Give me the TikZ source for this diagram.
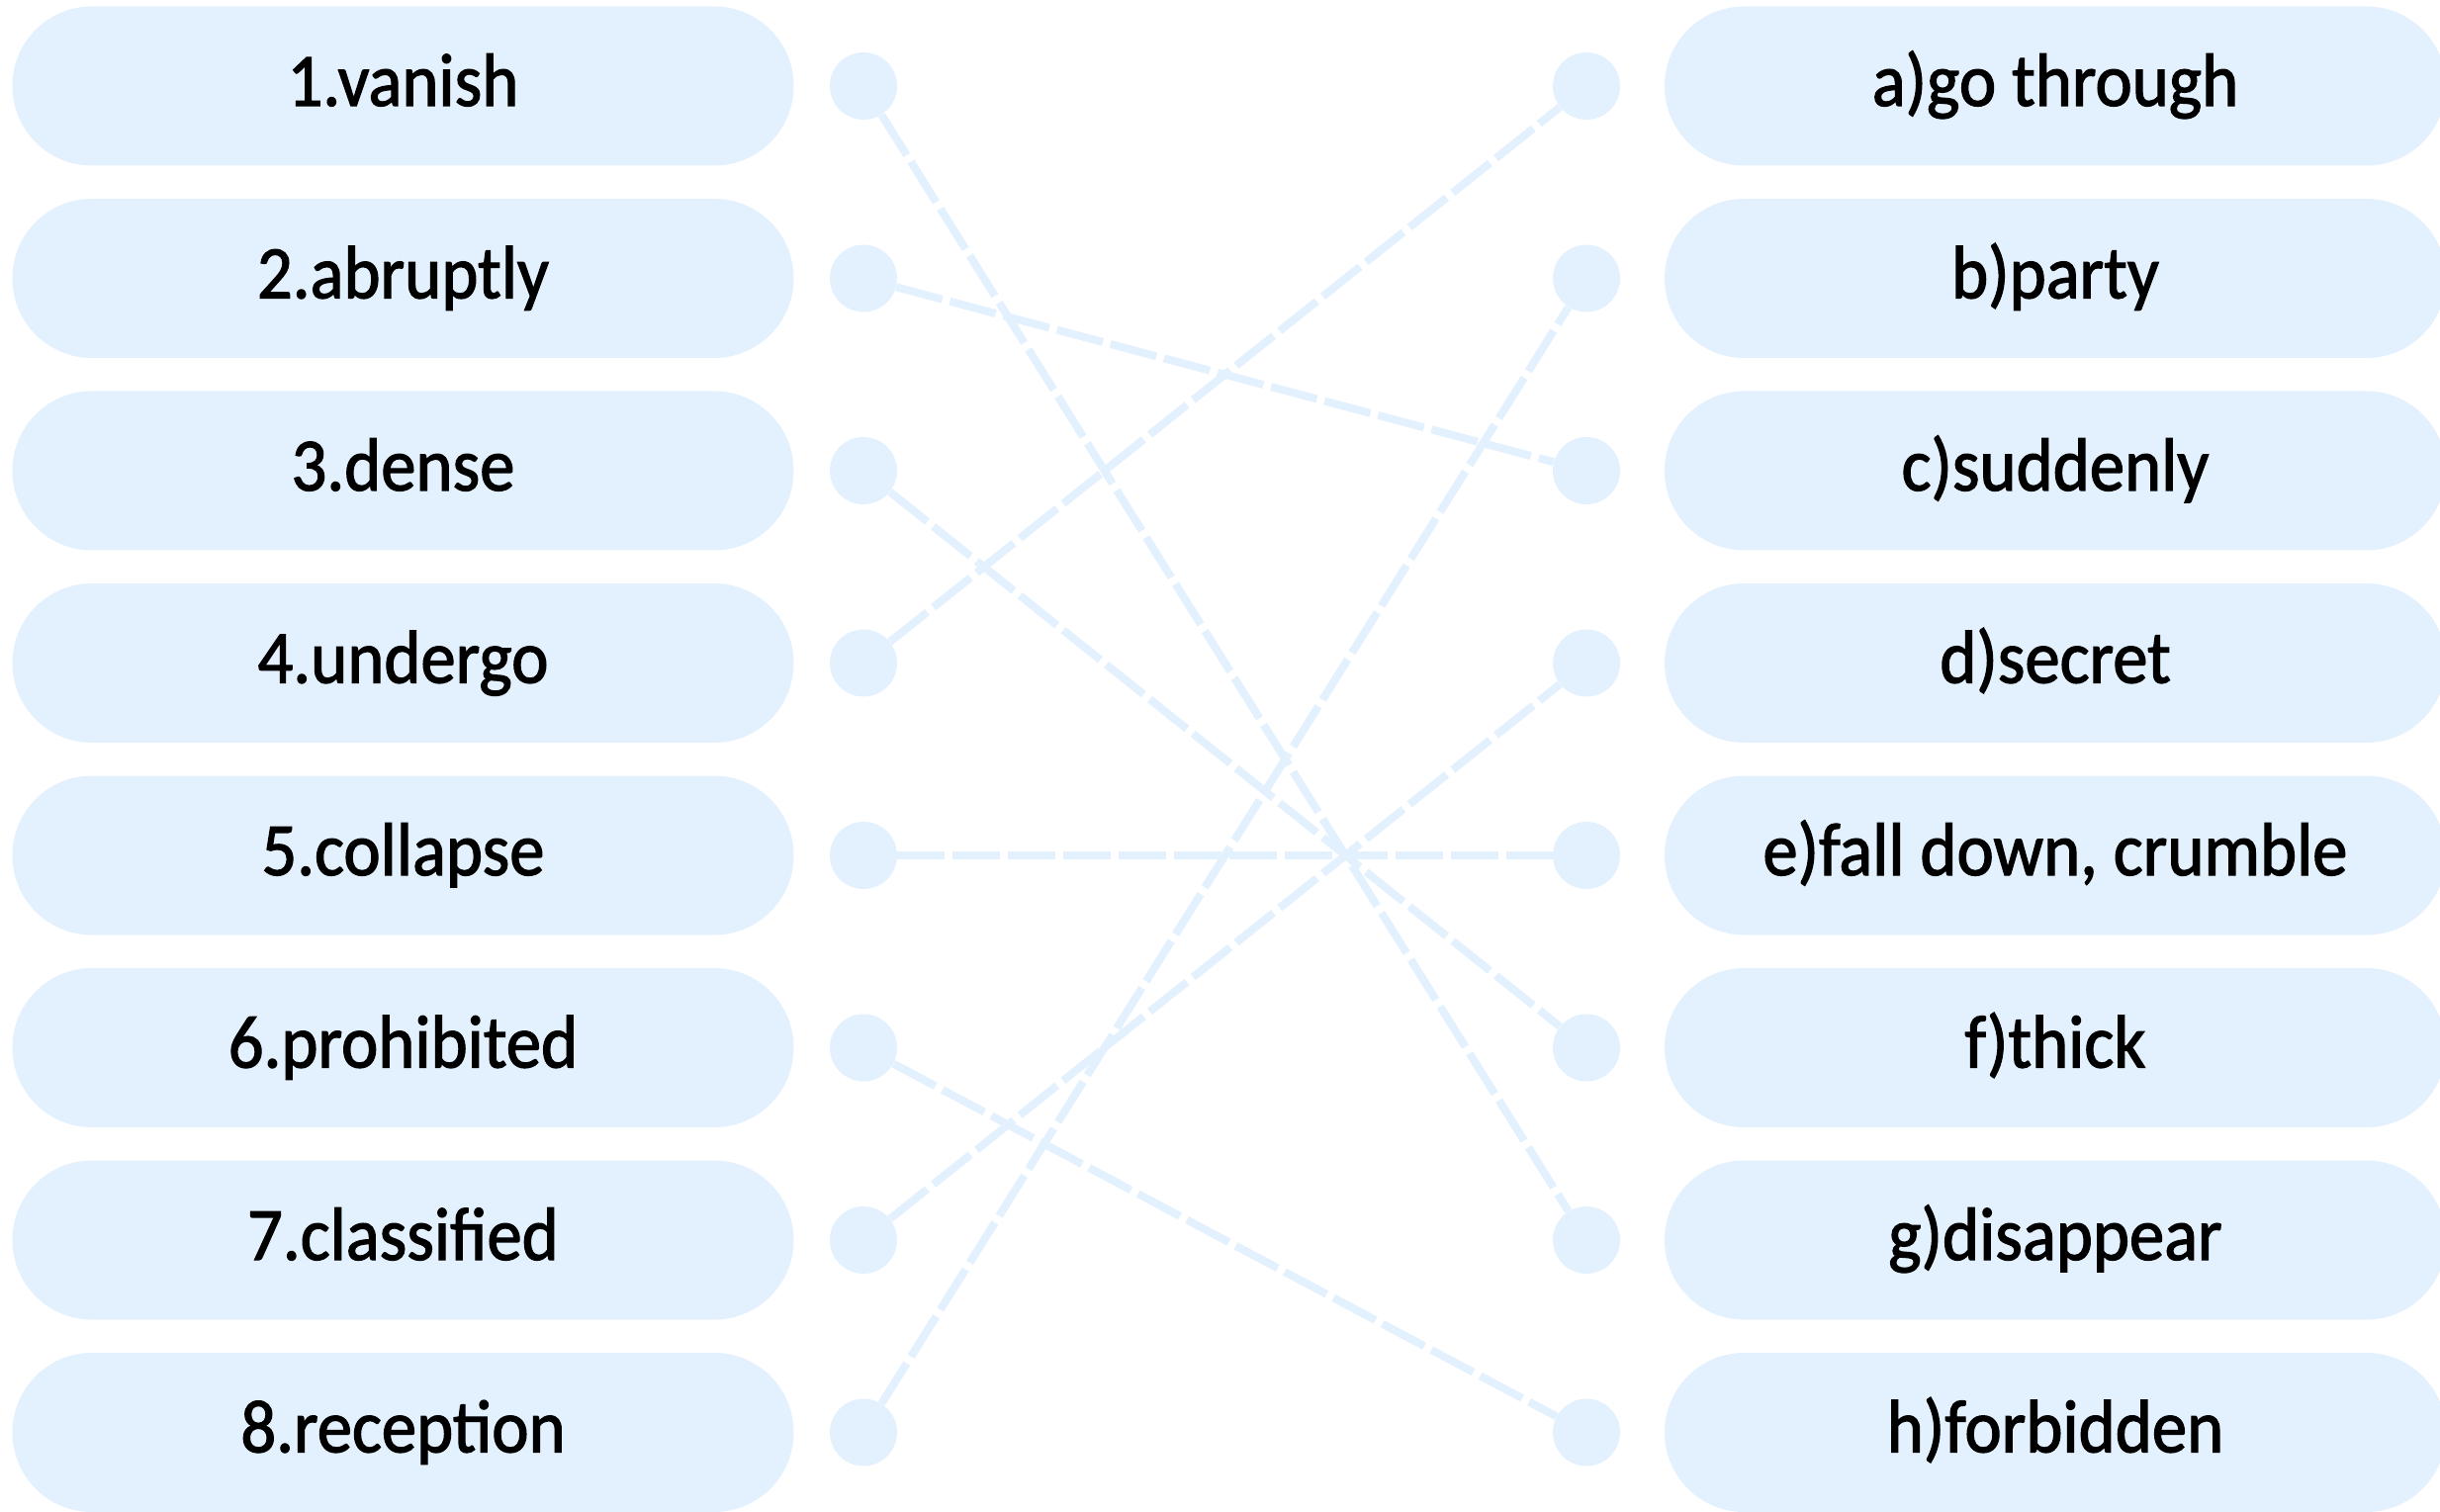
\documentclass[tikz,border=0pt]{standalone}
\usepackage{fontspec}
\setmainfont{Carlito}[FakeStretch=0.93,FakeBold=1.6]
\definecolor{cfill}{HTML}{E3F0FD}
\begin{document}
\begin{tikzpicture}[x=0.5pt,y=-0.5pt,
  box/.style={fill=cfill, draw=none, rounded corners=40.2pt, minimum width=395pt, minimum height=80.5pt, inner sep=0pt, font=\fontsize{38}{45}\selectfont, text height=28.5pt, text depth=8.5pt},
  dot/.style={circle, fill=cfill, draw=none, minimum size=34pt, inner sep=0pt},
  link/.style={draw=cfill, line width=4pt, dash pattern=on 24pt off 4pt}]
\useasboundingbox (0,0) rectangle (2467,1529);
% left boxes
\node[box] (L1) at (407.5,87) {1.vanish};
\node[box] (L2) at (407.5,281.5) {2.abruptly};
\node[box] (L3) at (407.5,476) {3.dense};
\node[box] (L4) at (407.5,670.5) {4.undergo};
\node[box] (L5) at (407.5,865) {5.collapse};
\node[box] (L6) at (407.5,1059.5) {6.prohibited};
\node[box] (L7) at (407.5,1254) {7.classified};
\node[box] (L8) at (407.5,1448.5) {8.reception};
% right boxes
\node[box] (Ra) at (2078,87) {a)go through};
\node[box] (Rb) at (2078,281.5) {b)party};
\node[box] (Rc) at (2078,476) {c)suddenly};
\node[box] (Rd) at (2078,670.5) {d)secret};
\node[box] (Re) at (2078,865) {e)fall down, crumble};
\node[box] (Rf) at (2078,1059.5) {f)thick};
\node[box] (Rg) at (2078,1254) {g)disappear};
\node[box] (Rh) at (2078,1448.5) {h)forbidden};
% dots
\foreach \i/\y in {1/87,2/281.5,3/476,4/670.5,5/865,6/1059.5,7/1254,8/1448.5}{
  \node[dot] (l\i) at (873,\y) {};
}
\foreach \j/\y in {a/87,b/281.5,c/476,d/670.5,e/865,f/1059.5,g/1254,h/1448.5}{
  \node[dot] (r\j) at (1604,\y) {};
}
% links
\draw[link] (l1) -- (rg);
\draw[link] (l2) -- (rc);
\draw[link] (l3) -- (rf);
\draw[link] (l4) -- (ra);
\draw[link] (l5) -- (re);
\draw[link] (l6) -- (rh);
\draw[link] (l7) -- (rd);
\draw[link] (l8) -- (rb);
\end{tikzpicture}
\end{document}
